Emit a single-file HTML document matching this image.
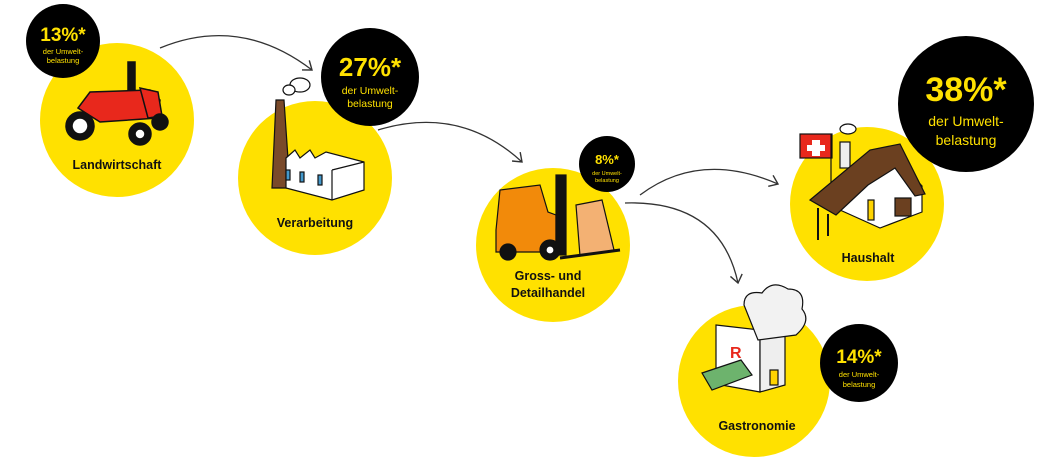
<!DOCTYPE html>
<html><head><meta charset="utf-8"><style>
html,body{margin:0;padding:0;background:#fff;}
body{width:1062px;height:471px;overflow:hidden;position:relative;font-family:"Liberation Sans",sans-serif;}
svg{position:absolute;left:0;top:0;}
</style></head><body>
<svg width="1062" height="471" viewBox="0 0 1062 471" font-family="Liberation Sans, sans-serif">
<defs>
<marker id="ah" markerWidth="14" markerHeight="14" refX="10" refY="7" orient="auto" markerUnits="userSpaceOnUse">
<path d="M2,1 L10,7 L2,13" fill="none" stroke="#333" stroke-width="1.4"/>
</marker>
</defs>
<!-- arrows -->
<g fill="none" stroke="#333" stroke-width="1.3">
<path d="M160,48 Q240,15 312,70" marker-end="url(#ah)"/>
<path d="M378,130 Q460,105 522,162" marker-end="url(#ah)"/>
<path d="M640,195 Q700,150 778,184" marker-end="url(#ah)"/>
<path d="M625,203 Q720,200 738,283" marker-end="url(#ah)"/>
</g>
<!-- yellow circles -->
<g fill="#FFE100">
<circle cx="117" cy="120" r="77"/>
<circle cx="315" cy="178" r="77"/>
<circle cx="553" cy="245" r="77"/>
<circle cx="867" cy="204" r="77"/>
<circle cx="754" cy="381" r="76"/>
</g>
<!-- tractor -->
<g stroke="#111" stroke-width="1.5">
<rect x="128" y="62" width="7" height="32" fill="#111"/>
<path d="M78,108 L90,92 L150,90 L160,100 L158,118 L100,122 Z" fill="#e8281c"/>
<path d="M140,88 L158,92 L162,116 L148,118 Z" fill="#e8281c"/>
<circle cx="80" cy="126" r="14" fill="#111"/><circle cx="80" cy="126" r="8" fill="#fff"/>
<circle cx="140" cy="134" r="11" fill="#111"/><circle cx="140" cy="134" r="5" fill="#fff"/>
<circle cx="160" cy="122" r="8" fill="#111"/>
</g>
<!-- factory -->
<g stroke="#111" stroke-width="1.2">
<path d="M276,100 L284,100 L290,188 L272,188 Z" fill="#7a4a2a"/>
<path d="M286,158 L295,150 L300,158 L310,150 L315,158 L326,152 L364,162 L364,190 L332,200 L286,188 Z" fill="#fff"/>
<path d="M332,170 L364,162 M332,170 L332,200" fill="none"/>
<rect x="286" y="170" width="4" height="10" fill="#49c"/><rect x="300" y="172" width="4" height="10" fill="#49c"/><rect x="318" y="175" width="4" height="10" fill="#49c"/>
<ellipse cx="300" cy="85" rx="10" ry="7" fill="#fff"/><ellipse cx="289" cy="90" rx="6" ry="5" fill="#fff"/>
</g>
<!-- forklift -->
<g stroke="#111" stroke-width="1.2">
<path d="M496,230 L500,190 L540,185 L548,212 L556,215 L556,252 L496,252 Z" fill="#f28a0a"/>
<rect x="556" y="175" width="10" height="80" fill="#111"/>
<circle cx="508" cy="252" r="8" fill="#111"/><circle cx="550" cy="250" r="10" fill="#111"/><circle cx="550" cy="250" r="4" fill="#fff"/>
<path d="M576,205 L602,200 L614,250 L580,256 Z" fill="#f3b173"/>
<path d="M560,258 L620,250" stroke-width="3"/>
</g>
<!-- house -->
<g stroke="#111" stroke-width="1.2">
<rect x="800" y="134" width="32" height="24" fill="#e8281c"/>
<path d="M812,140 h8 v5 h5 v6 h-5 v5 h-8 v-5 h-5 v-6 h5 z" fill="#fff" stroke="none"/>
<line x1="831" y1="134" x2="831" y2="200"/>
<rect x="840" y="142" width="10" height="26" fill="#eee"/>
<ellipse cx="848" cy="129" rx="8" ry="5" fill="#fff"/>
<path d="M840,210 L880,228 L922,212 L922,186 L896,158 L860,170 Z" fill="#fff"/>
<path d="M810,200 L870,150 L900,144 L925,194 L915,196 L895,168 L868,185 L836,215 Z" fill="#6b4020"/>
<rect x="895" y="198" width="16" height="18" fill="#6b4020"/>
<rect x="868" y="200" width="6" height="20" fill="#ffd400"/>
<line x1="818" y1="208" x2="818" y2="240" stroke-width="2"/><line x1="828" y1="214" x2="828" y2="236" stroke-width="2"/>
</g>
<!-- restaurant -->
<g stroke="#111" stroke-width="1.2">
<path d="M716,325 L760,330 L760,392 L716,384 Z" fill="#fff"/>
<path d="M760,330 L785,325 L785,385 L760,392 Z" fill="#eee"/>
<path d="M744,305 q0,-15 18,-12 q10,-14 26,-4 q18,0 14,20 q10,12 -6,26 L758,340 Z" fill="#f2f2f2"/>
<path d="M702,373 L741,360 L752,375 L712,390 Z" fill="#6db36d"/>
<rect x="770" y="370" width="8" height="15" fill="#ffd400"/>
<text x="730" y="358" fill="#e8281c" stroke="none" font-size="16" font-weight="bold">R</text>
</g>
<!-- black circles -->
<g fill="#000">
<circle cx="63" cy="41" r="37"/>
<circle cx="370" cy="77" r="49"/>
<circle cx="607" cy="164" r="28"/>
<circle cx="966" cy="104" r="68"/>
<circle cx="859" cy="363" r="39"/>
</g>
<g fill="#FFE100" font-weight="bold" text-anchor="middle">
<text x="63" y="41" font-size="19">13%*</text>
<text x="63" y="54" font-size="7.5" font-weight="normal">der Umwelt-</text>
<text x="63" y="63" font-size="7.5" font-weight="normal">belastung</text>
<text x="370" y="76" font-size="26">27%*</text>
<text x="370" y="94" font-size="10.5" font-weight="normal">der Umwelt-</text>
<text x="370" y="107" font-size="10.5" font-weight="normal">belastung</text>
<text x="607" y="164" font-size="13">8%*</text>
<text x="607" y="175" font-size="5.5" font-weight="normal">der Umwelt-</text>
<text x="607" y="182" font-size="5.5" font-weight="normal">belastung</text>
<text x="966" y="101" font-size="34">38%*</text>
<text x="966" y="126" font-size="14" font-weight="normal">der Umwelt-</text>
<text x="966" y="145" font-size="14" font-weight="normal">belastung</text>
<text x="859" y="363" font-size="19">14%*</text>
<text x="859" y="377" font-size="7.5" font-weight="normal">der Umwelt-</text>
<text x="859" y="387" font-size="7.5" font-weight="normal">belastung</text>
</g>
<g fill="#111" font-weight="bold" text-anchor="middle" font-size="12.5">
<text x="117" y="169">Landwirtschaft</text>
<text x="315" y="227">Verarbeitung</text>
<text x="548" y="280">Gross- und</text>
<text x="548" y="297">Detailhandel</text>
<text x="868" y="262">Haushalt</text>
<text x="757" y="430">Gastronomie</text>
</g>
</svg>
</body></html>
